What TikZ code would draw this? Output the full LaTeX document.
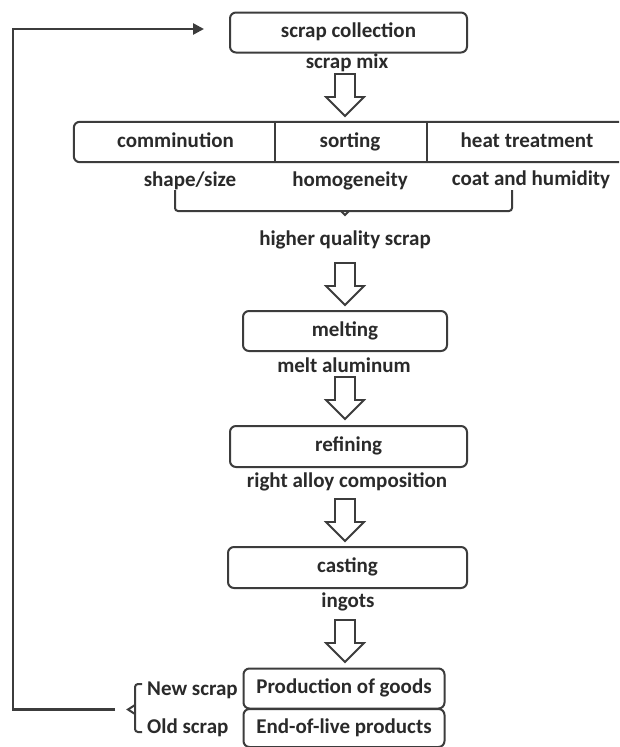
\documentclass[tikz,border=0pt]{standalone}
\usepackage{fontspec}
\setmainfont{Carlito}
\usetikzlibrary{arrows.meta,calc}
\definecolor{ln}{HTML}{3C3C3C}
\definecolor{tx}{HTML}{2A2A2A}
\tikzset{
  every node/.style={text=tx,font=\fontsize{21}{24}\bfseries\selectfont,text height=1.2em,text depth=0.2em},
  box/.style={draw=ln,line width=2pt,rounded corners=6pt,minimum height=40pt,inner sep=0pt},
  cell/.style={minimum height=40pt,inner sep=0pt},
  lbl/.style={inner sep=0pt},
  feed/.style={draw=ln,line width=2.6pt,-{Triangle[length=11pt,width=11pt]}},
  brace/.style={draw=ln,line width=2pt},
  hollow/.pic={\draw[ln,line width=1.8pt,line join=miter,fill=white]
    (-10,0) -- (10,0) -- (10,23) -- (19,23) -- (0,42) -- (-19,23) -- (-10,23) -- cycle;}
}
\begin{document}
\begin{tikzpicture}[x=1pt,y=-1pt]
\useasboundingbox (0,0) rectangle (619,747);
\clip (0,0) rectangle (619,747);
\fill[white] (0,0) rectangle (619,747);
% boxes
\node[box,minimum width=237pt] (sc) at (348.5,32.5) {scrap collection};
\node[lbl] (mix) at (347,63) {scrap mix};
\pic at (345,74) {hollow};
% row
\node[cell,minimum width=203pt] (comm) at (175.5,142) {comminution};
\node[cell,minimum width=150pt] (sort) at (350,142) {sorting};
\node[cell,minimum width=200pt] (heat) at (527,142) {heat treatment};
\draw[ln,line width=2pt,rounded corners=6pt] (comm.north west) rectangle (heat.south east);
\draw[ln,line width=2pt] (sort.north west) -- (sort.south west);
\draw[ln,line width=2pt] (heat.north west) -- (heat.south west);
\node[lbl] (shape) at (190,181) {shape/size};
\node[lbl] (homo) at (350,181) {homogeneity};
\node[lbl] (coat) at (531,180) {coat and humidity};
\draw[brace,rounded corners=3pt] (175,190) |- (345,211) -| (512,190);
\draw[brace] (341,211) -- (345,215) -- (349,211);
\node[lbl] (hq) at (345,240) {higher quality scrap};
\pic at (345,263) {hollow};
\node[box,minimum width=204pt] (melt) at (345,331) {melting};
\node[lbl] (ma) at (344,367) {melt aluminum};
\pic at (345,377) {hollow};
\node[box,minimum width=237pt,minimum height=41pt] (ref) at (348.5,446.5) {refining};
\node[lbl] (rac) at (347,482) {right alloy composition};
\pic at (345,499) {hollow};
\node[box,minimum width=239pt,minimum height=41pt] (cast) at (347.5,567.5) {casting};
\node[lbl] (ing) at (348,602) {ingots};
\pic at (345,620) {hollow};
\node[box,minimum width=201pt] (prod) at (344,688.5) {Production of goods};
\node[box,minimum width=201pt,minimum height=38pt] (eol) at (344,728) {End-of-live products};
\node[lbl,anchor=west] (new) at (147,690) {New scrap};
\node[lbl,anchor=west] (old) at (147,728) {Old scrap};
\draw[brace,rounded corners=3pt] (142,684) -| (135,732) -- (142,732);
\draw[brace] (135,705) -- (128,709.5) -- (135,714);
\coordinate (fbstart) at (115,709.5);
\coordinate (corner) at (13,29);
\coordinate (fbend) at (204,29);
\draw[feed] (fbstart) -| (corner) -- (fbend);
\end{tikzpicture}
\end{document}
